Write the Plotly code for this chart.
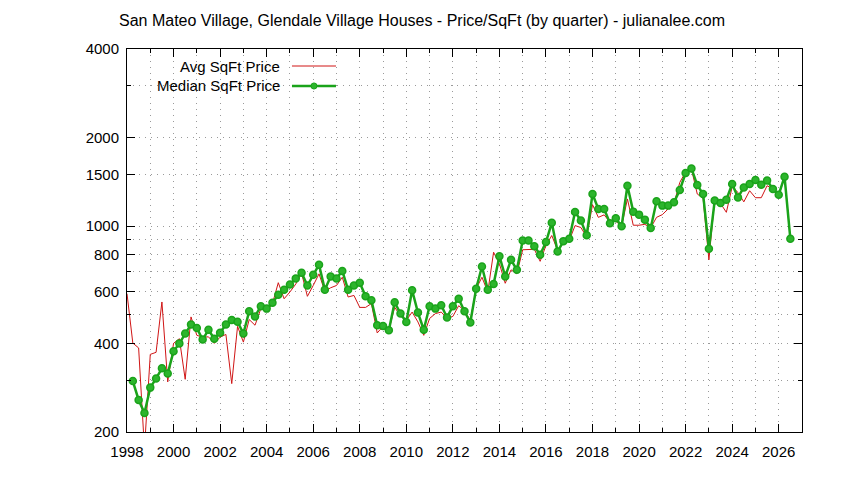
import plotly.graph_objects as go

# Quarterly price per square foot, 1998 Q1 .. 2026 Q3
avg_price = [
    590, 401, 386, 175, 367, 373, 553, 296, 400, 415, 302, 492,
    426, 420, 421, 400, 420, 429, 292, 457, 404, 482, 461, 525,
    514, 546, 643, 567, 598, 636, 693, 578, 629, 689, 601, 618,
    629, 671, 575, 582, 530, 530, 546, 434, 457, 443, 531, 495,
    479, 511, 473, 426, 486, 505, 511, 486, 494, 537, 517, 479,
    613, 671, 598, 816, 746, 640, 711, 689, 832, 832, 835, 760,
    860, 930, 829, 874, 894, 1005, 990, 920, 1184, 1072, 1093, 1032,
    1040, 1000, 1238, 1008, 1008, 1015, 987, 1072, 1095, 1145, 1195, 1409,
    1530, 1565, 1287, 1244, 769, 1238, 1195, 1115, 1360, 1303, 1210, 1320,
    1250, 1250, 1373, 1338, 1267, 1473, 906,
]
median_price = [
    None, 298, 257, 232, 283, 304, 329, 316, 376, 400, 432, 464,
    451, 412, 445, 415, 435, 464, 480, 474, 432, 514, 494, 535,
    525, 550, 585, 608, 634, 665, 695, 629, 684, 740, 609, 675,
    664, 705, 608, 629, 643, 578, 560, 461, 458, 443, 552, 505,
    473, 606, 509, 445, 535, 525, 539, 490, 535, 567, 514, 471,
    613, 730, 608, 636, 791, 675, 769, 711, 894, 894, 855, 800,
    884, 1027, 820, 890, 906, 1118, 1045, 932, 1287, 1145, 1145, 1024,
    1064, 1000, 1373, 1121, 1095, 1053, 987, 1215, 1175, 1175, 1206, 1328,
    1516, 1572, 1380, 1287, 838, 1222, 1200, 1231, 1392, 1253, 1355, 1392,
    1436, 1384, 1430, 1338, 1280, 1473, 906,
]
quarters = [y + q / 4 for y in range(1998, 2027) for q in range(4)][:len(avg_price)]

year_ticks = list(range(1998, 2027, 2))
year_minor = list(range(1999, 2027, 2))
price_ticks = [200, 400, 600, 800, 1000, 1500, 2000, 4000]
price_minor = [300, 500, 700, 900, 3000]

RED = "#d01515"
GREEN = "#1aa31a"
FONT = "Liberation Sans, Arial, sans-serif"

fig = go.Figure()
fig.add_trace(go.Scatter(x=quarters, y=avg_price, mode="lines",
                         line=dict(color=RED, width=1), name="Avg SqFt Price"))
fig.add_trace(go.Scatter(x=quarters, y=median_price, mode="lines+markers",
                         line=dict(color=GREEN, width=2.5),
                         marker=dict(size=7, color="#2cb52c", line=dict(color=GREEN, width=1.5)),
                         name="Median SqFt Price"))

dots = dict(gridcolor="#9a9a9a", gridwidth=1, griddash="1px,5px")
grid = dict(showgrid=True, showline=True, linecolor="black", linewidth=1, mirror="ticks",
            ticks="inside", ticklen=8, tickcolor="black", zeroline=False,
            tickfont=dict(family=FONT, size=15, color="black"), **dots)

fig.update_xaxes(range=[1998, 2027], tickmode="array", tickvals=year_ticks,
                 minor=dict(tickmode="array", tickvals=year_minor, ticks="inside",
                            ticklen=4, tickcolor="black", showgrid=True, **dots),
                 ticklabelstandoff=6, **grid)
fig.update_yaxes(type="log", range=[2.30103, 3.60206], tickmode="array", tickvals=price_ticks,
                 ticktext=[str(v) for v in price_ticks],
                 minor=dict(tickmode="array", tickvals=price_minor, ticks="inside",
                            ticklen=4, tickcolor="black", showgrid=True, **dots),
                 ticklabelstandoff=4, **grid)

# gnuplot-style key: text on the left, sample on the right
legend_rows = [("Avg SqFt Price", RED, 1, False, 0.9556),
               ("Median SqFt Price", GREEN, 2.5, True, 0.9034)]
for label, color, width, dot, ypos in legend_rows:
    fig.add_annotation(x=0.2296, y=ypos, xref="paper", yref="paper", text=label,
                       showarrow=False, xanchor="right", yanchor="middle",
                       font=dict(family=FONT, size=15, color="black"))
    fig.add_shape(type="line", xref="paper", yref="paper", x0=0.2444, x1=0.3096,
                  y0=ypos, y1=ypos, line=dict(color=color, width=width))
    if dot:
        fig.add_shape(type="circle", xref="paper", yref="paper",
                      x0=0.277 - 0.0045, x1=0.277 + 0.0045,
                      y0=ypos - 0.008, y1=ypos + 0.008,
                      fillcolor="#2cb52c", line=dict(color=GREEN, width=1))

# page body has an 8px margin, so the figure sits 8px right and down
fig.update_layout(
    width=844, height=480,
    margin=dict(l=119, r=50, t=41, b=56),
    paper_bgcolor="white", plot_bgcolor="white",
    showlegend=False,
    title=dict(text="San Mateo Village, Glendale Village Houses - Price/SqFt (by quarter) - julianalee.com",
               x=(422 - 8) / 844, xanchor="center", y=1 - 12 / 480, yanchor="middle",
               font=dict(family=FONT, size=16, color="black")),
)

fig.write_html("out.html")
